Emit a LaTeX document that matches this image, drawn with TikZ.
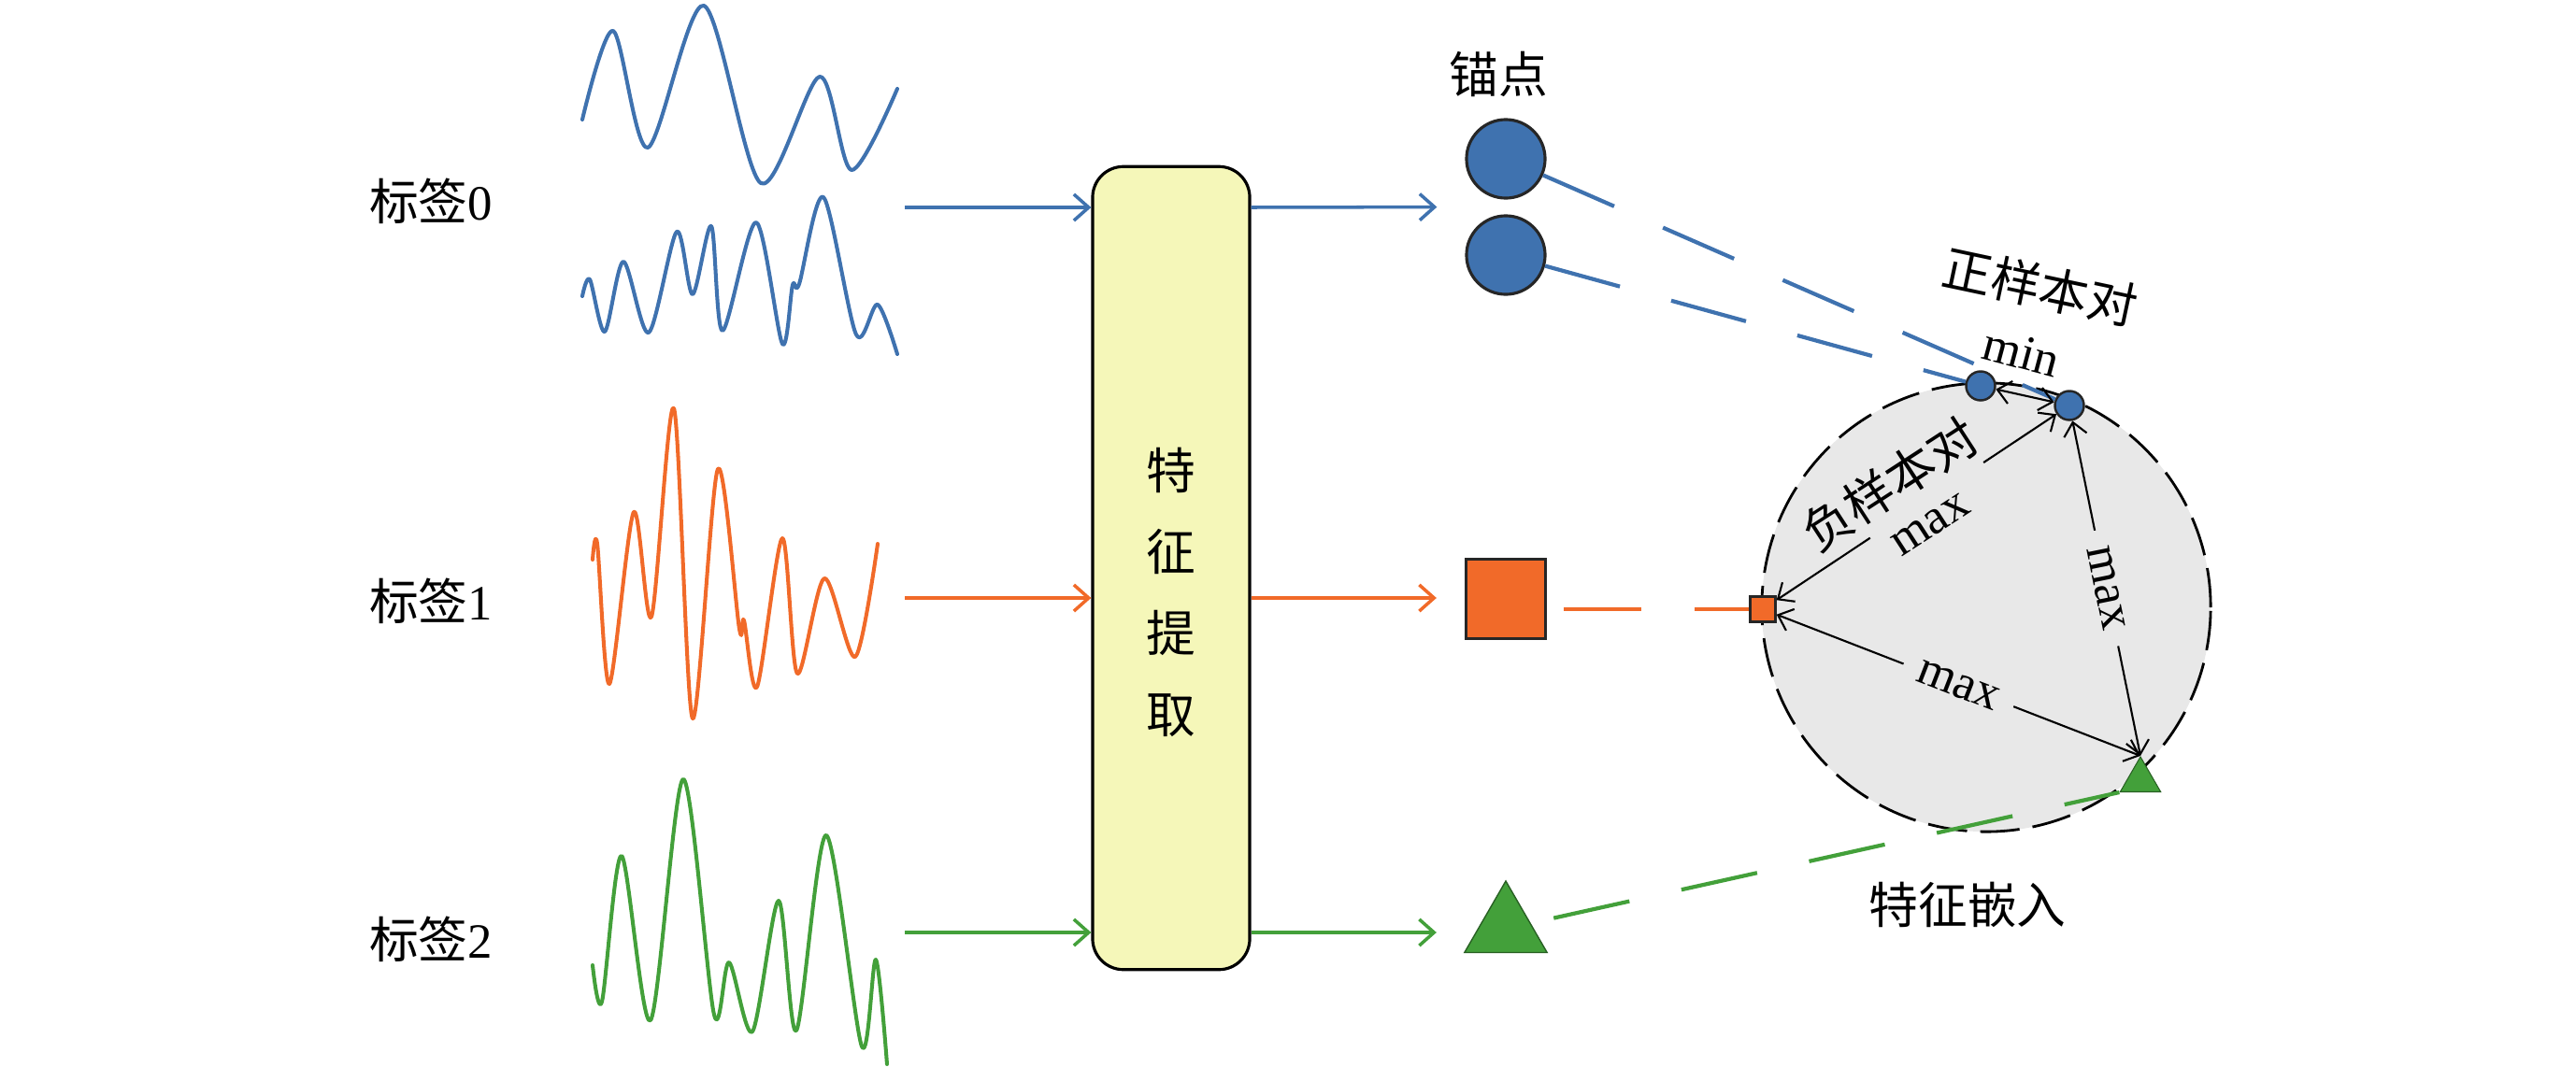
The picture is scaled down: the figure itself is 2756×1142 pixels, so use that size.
\documentclass[tikz,border=0pt]{standalone}
\usepackage{fontspec}
\setmainfont{Liberation Serif}
\newfontfamily\cjk{Noto Sans CJK SC}
\usetikzlibrary{positioning,calc,shapes.geometric,arrows.meta}

\definecolor{wblue}{RGB}{63,114,175}
\definecolor{worange}{RGB}{241,106,41}
\definecolor{wgreen}{RGB}{67,160,58}
\definecolor{boxfill}{RGB}{245,247,185}
\definecolor{embfill}{RGB}{232,232,232}

\tikzset{
  wave/.style={line width=1.15pt, line join=round, line cap=round},
  flow/.style={line width=1pt, -{Straight Barb[length=4.5pt,width=8pt]}},
  link/.style={line width=1.2pt, dash pattern=on 23.6pt off 16.2pt},
  dist/.style={line width=0.6pt, {Straight Barb[length=4pt,width=7pt]}-{Straight Barb[length=4pt,width=7pt]}},
  half/.style={line width=0.6pt, -{Straight Barb[length=4pt,width=7pt]}},
  lab/.style={font=\fontsize{15}{18}\selectfont},
  anc/.style={circle, draw=black!85, line width=0.9pt, fill=wblue, minimum size=0.84cm, inner sep=0},
  pt/.style={circle, draw=black!85, line width=0.7pt, fill=wblue, minimum size=0.31cm, inner sep=0},
  gap/.style={lab, midway, sloped, fill=embfill, inner sep=5pt}
}

\begin{document}
\begin{tikzpicture}[x=0.01cm, y=-0.01cm]
\useasboundingbox (0,0) rectangle (2756,1142);

% labels
\node[lab] (lab0) at (461,215) {{\cjk 标签}0};
\node[lab] (lab1) at (461,643) {{\cjk 标签}1};
\node[lab] (lab2) at (461,1005) {{\cjk 标签}2};

% signals
\draw[wave, wblue] plot[smooth] coordinates {(623,128) (656,33) (693,158) (753,6) (814,196) (877,82) (911,182) (960,95)};
\draw[wave, wblue] plot[smooth] coordinates {(623,317) (631,299) (647,355) (667,280) (694,356) (724,248) (741,315) (761,242) (773,354) (809,238) (837,368) (848,305) (855,304) (881,211) (916,358) (939,326) (960,379)};
\draw[wave, worange] plot[smooth] coordinates {(634,599) (639,582) (652,732) (678,548) (697,660) (721,437) (741,769) (768,502) (791,673) (796,664) (810,735) (837,576) (853,721) (882,619) (915,703) (939,582)};
\draw[wave, wgreen] plot[smooth] coordinates {(634,1033) (644,1072) (665,916) (696,1092) (731,834) (764,1086) (780,1030) (805,1104) (833,964) (852,1103) (884,894) (922,1120) (937,1027) (949,1139)};

% feature extraction
\node[draw, fill=boxfill, line width=0.9pt, rounded corners=0.33cm, minimum width=1.68cm, minimum height=8.59cm, inner sep=0] (box) at (1253,608) {};
\node[font=\fontsize{15}{24.8}\selectfont\cjk, align=center] (feat) at (1253,634) {特\\征\\提\\取};

\coordinate (in0) at (968,222);
\coordinate (in1) at (968,640);
\coordinate (in2) at (968,998);
\draw[flow, wblue] (in0) -- (in0 -| box.west);
\draw[flow, worange] (in1) -- (in1 -| box.west);
\draw[flow, wgreen] (in2) -- (in2 -| box.west);

% embeddings
\node[lab] (anclab) at (1603,79) {\cjk 锚点};
\node[anc] (anc1) at (1611,170) {};
\node[anc] (anc2) at (1611,273) {};
\node[draw=black!85, line width=0.9pt, fill=worange, minimum size=0.85cm, inner sep=0] (sq) at (1611,641) {};
\node[regular polygon, regular polygon sides=3, draw=wgreen!60!black, line width=0.4pt, fill=wgreen, minimum size=1.02cm, inner sep=0] (tri) at (1611,994) {};

\draw[flow, wblue, shorten >=0.3cm] (box.east |- in0) -- ($(anc1.west)!.5!(anc2.west)$);
\draw[flow, worange, shorten >=0.3cm] (box.east |- in1) -- (in1 -| sq.west);
\draw[flow, wgreen, shorten >=0.3cm] (box.east |- in2) -- (in2 -| sq.west);

% embedding space
\node[circle, draw, fill=embfill, line width=0.8pt, dash pattern=on 12pt off 4pt, minimum size=4.8cm, inner sep=0] (emb) at (2125,650) {};
\node[lab] (emblab) at (2105,968) {\cjk 特征嵌入};

\node[pt] (p1) at (2119,413) {};
\node[pt] (p2) at (2214,434) {};
\node[draw=black!85, line width=0.7pt, fill=worange, minimum size=0.27cm, inner sep=0] (ns) at (1886,652) {};
\node[regular polygon, regular polygon sides=3, draw=wgreen!60!black, line width=0.3pt, fill=wgreen, minimum size=0.5cm, inner sep=0] (nt) at (2290,835) {};

\draw[link, wblue] (anc1) -- (p2);
\draw[link, wblue] (anc2) -- (p1);
\draw[link, worange, shorten <=0.18cm] (sq.east |- ns) -- (ns);
\draw[link, wgreen, shorten <=0.25cm] (tri) -- (nt.corner 2);

% pairs
\draw[dist] (p1) -- (p2);
\node[lab, rotate=-15] (mintxt) at (2163,377) {min};
\node[lab, rotate=-12] (pos) at (2183,307) {\cjk 正样本对};
\node[lab, rotate=33] (neg) at (2022,518) {\cjk 负样本对};

\coordinate (g1) at ($(ns)!.35!(p2)$);
\coordinate (g2) at ($(ns)!.72!(p2)$);
\draw[half] (g1) -- (ns);
\draw[half] (g2) -- (p2);
\node[lab, rotate=33] (max1) at (2066,562) {max};
\draw[dist] (p2) -- (nt.corner 1) node[gap] {max};
\draw[dist] (ns) -- (nt.corner 1) node[gap] {max};

\end{tikzpicture}
\end{document}
